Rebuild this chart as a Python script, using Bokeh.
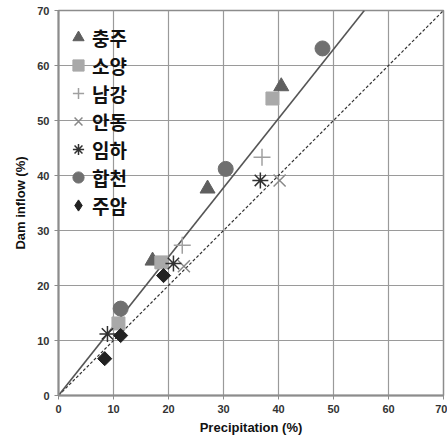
import math
from bokeh.plotting import figure
from bokeh.models import Legend, LegendItem, FixedTicker
from bokeh.embed import file_html
from bokeh.resources import INLINE

# data
chungju_x = [17.1, 27.1, 40.5]
chungju_y = [24.5, 37.6, 56.2]
soyang_x = [10.9, 18.7, 38.9]
soyang_y = [13.1, 24.2, 54.0]
namgang_x = [22.5, 37.0]
namgang_y = [27.3, 43.3]
andong_x = [22.8, 40.2]
andong_y = [23.5, 39.1]
imha_x = [8.9, 20.9, 36.7]
imha_y = [11.2, 24.0, 39.1]
hapcheon_x = [11.3, 30.4, 48.0]
hapcheon_y = [15.8, 41.2, 63.1]
juam_x = [8.4, 11.3, 19.1]
juam_y = [6.7, 10.9, 21.8]
fit_x = [0, 55.6]
fit_y = [0, 70]
one_x = [0, 70]
one_y = [0, 70]
ticks = [0, 10, 20, 30, 40, 50, 60, 70]

p = figure(width=447, height=442, output_backend="svg", toolbar_location=None,
           x_range=(0, 70), y_range=(0, 70),
           min_border_left=58, min_border_right=4, min_border_top=10, min_border_bottom=47)
p.background_fill_color = "white"
p.outline_line_color = "#8c8c8c"
p.outline_line_width = 1.5

for ax in (p.xaxis[0], p.yaxis[0]):
    ax.ticker = FixedTicker(ticks=ticks)
    ax.major_label_text_font = "Liberation Sans"
    ax.major_label_text_font_style = "bold"
    ax.major_label_text_font_size = "11px"
    ax.major_label_text_color = "#333333"
    ax.axis_line_color = "#8c8c8c"
    ax.axis_line_width = 2
    ax.major_tick_line_color = "#8c8c8c"
    ax.major_tick_out = 4
    ax.major_tick_in = 0
    ax.minor_tick_line_color = None
    ax.axis_label_text_font = "Liberation Sans"
    ax.axis_label_text_font_style = "bold"
    ax.axis_label_text_font_size = "13px"
    ax.axis_label_text_color = "#111111"

p.xaxis.axis_label = "Precipitation (%)"
p.yaxis.axis_label = "Dam inflow (%)"
p.xaxis.axis_label_standoff = 4
p.yaxis.axis_label_standoff = 6

p.xgrid.ticker = FixedTicker(ticks=ticks)
p.ygrid.ticker = FixedTicker(ticks=ticks)
p.grid.grid_line_color = "#9a9a9a"
p.grid.grid_line_width = 1.2

p.line(one_x, one_y, line_color="#333333", line_width=1.2, line_dash="3 2")
p.line(fit_x, fit_y, line_color="#555555", line_width=1.6)

r1 = p.scatter(chungju_x, chungju_y, marker="triangle", size=15, color="#5f5f5f")
r2 = p.scatter(soyang_x, soyang_y, marker="square", size=13, color="#a9a9a9")
r3 = p.scatter(namgang_x, namgang_y, marker="cross", size=17, line_color="#a0a0a0", line_width=1.5)
r4 = p.scatter(andong_x, andong_y, marker="x", size=17, line_color="#888888", line_width=1.5)
r5 = p.scatter(imha_x, imha_y, marker="asterisk", size=16, line_color="#303030", line_width=1.5)
r6 = p.scatter(hapcheon_x, hapcheon_y, marker="circle", size=15, color="#707070")
r7 = p.scatter(juam_x, juam_y, marker="square", size=10, angle=math.pi / 4, color="#222222")
# legend-only glyph for the diamond (legend ignores angle)
r7_leg = p.scatter(juam_x, juam_y, marker="diamond", size=14, color="#222222", visible=False)

items = [LegendItem(label=l, renderers=[r]) for l, r in
         [("충주", r1), ("소양", r2), ("남강", r3), ("안동", r4), ("임하", r5), ("합천", r6), ("주암", r7_leg)]]
legend = Legend(items=items, location=(6, 176))
legend.background_fill_alpha = 0
legend.border_line_color = None
legend.label_text_font = "Noto Sans CJK KR"
legend.label_text_font_style = "bold"
legend.label_text_font_size = "19px"
legend.label_text_color = "#111111"
legend.glyph_width = 28
legend.glyph_height = 28
legend.label_height = 28
legend.spacing = 0
legend.padding = 0
legend.margin = 0
legend.label_standoff = 0
p.add_layout(legend, "center")

open("out.html", "w").write(file_html(p, INLINE))
